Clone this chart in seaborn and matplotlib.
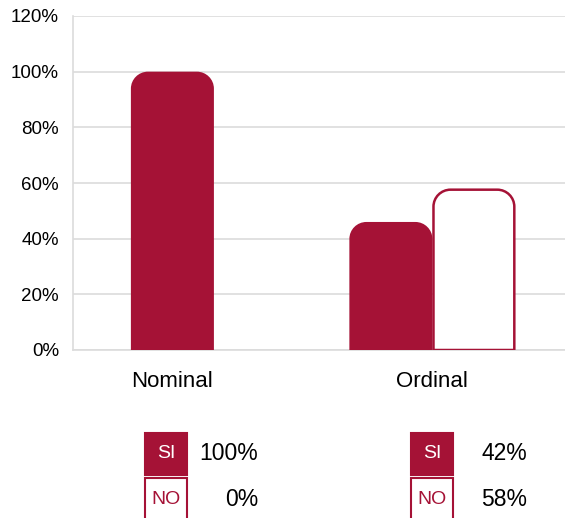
"""Rounded bar chart SI / NO with a small value table underneath"""
import numpy as np
import pandas as pd
import seaborn as sns
import matplotlib.pyplot as plt
from matplotlib.path import Path
from matplotlib.patches import PathPatch, Rectangle

categories = ['Nominal', 'Ordinal']
answers = ['SI', 'NO']
si_values = [100, 46]   # bar heights as drawn
no_values = [0, 58]
si_labels = ['100%', '42%']   # printed in the table
no_labels = ['0%', '58%']
y_ticks = [0, 20, 40, 60, 80, 100, 120]

CRIMSON = '#a51236'
GRID = '#dcdcdc'


def rounded_top(x0, w, h, rx, ry):
    """Bar path with rounded upper corners"""
    k = 0.5523
    x1 = x0 + w
    ry = min(ry, h)
    verts = [(x0, 0), (x0, h - ry),
             (x0, h - ry + k*ry), (x0 + rx - k*rx, h), (x0 + rx, h),
             (x1 - rx, h),
             (x1 - rx + k*rx, h), (x1, h - ry + k*ry), (x1, h - ry),
             (x1, 0), (x0, 0)]
    codes = [Path.MOVETO, Path.LINETO,
             Path.CURVE4, Path.CURVE4, Path.CURVE4,
             Path.LINETO,
             Path.CURVE4, Path.CURVE4, Path.CURVE4,
             Path.LINETO, Path.CLOSEPOLY]
    return Path(verts, codes)


df = pd.DataFrame({
    'categoria': categories * 2,
    'respuesta': ['SI'] * 2 + ['NO'] * 2,
    'valor': si_values + no_values,
})

sns.set_style('white')
plt.rcParams['font.family'] = ['Liberation Sans', 'DejaVu Sans']

fig = plt.figure(figsize=(5.65, 5.18), dpi=100)
ax = fig.add_axes([73/565, 168/518, 492/565, 334/518])

sns.barplot(data=df, x='categoria', y='valor', hue='respuesta',
            hue_order=answers, palette=[CRIMSON, CRIMSON], width=0.76,
            legend=False, ax=ax)

ax.set_xlim(-0.645, 1.607)
ax.set_ylim(0, 120)

# swap the square bars for rounded ones
rx, ry = 0.078, 6.1
bars = list(ax.patches)
tick_pos = {i: [] for i in range(len(categories))}
for n, bar in enumerate(bars):
    hue_idx, cat_idx = divmod(n, len(categories))
    x0, w, h = bar.get_x(), bar.get_width(), bar.get_height()
    bar.remove()
    if h <= 0:
        continue
    tick_pos[cat_idx].append(x0 + w/2)
    if answers[hue_idx] == 'SI':
        patch = PathPatch(rounded_top(x0, w, h, rx, ry), facecolor=CRIMSON,
                          edgecolor='none', zorder=3)
    else:
        patch = PathPatch(rounded_top(x0 + 0.005, w - 0.01, h - 0.4, rx, ry),
                          facecolor='white', edgecolor=CRIMSON, lw=1.8, zorder=3)
    ax.add_patch(patch)

ax.set_xticks([np.mean(tick_pos[i]) for i in range(len(categories))])
ax.set_xticklabels(categories, fontsize=16, color='black')
ax.set_yticks(y_ticks)
ax.set_yticklabels([f'{t}%' for t in y_ticks], fontsize=13.5, color='black')
ax.tick_params(axis='x', length=0, pad=15)
ax.tick_params(axis='y', length=0, pad=10)
ax.set_xlabel('')
ax.set_ylabel('')

ax.grid(axis='y', color=GRID, lw=1.2, zorder=0)
ax.set_axisbelow(True)
for side in ['top', 'right']:
    ax.spines[side].set_visible(False)
for side in ['left', 'bottom']:
    ax.spines[side].set_color(GRID)
    ax.spines[side].set_linewidth(1.2)

# little table under the chart
W, H = 565, 518
box_x = [145, 411]
text_right = [258, 527]
rows = [('SI', si_labels, 433), ('NO', no_labels, 478)]
for ci in range(len(categories)):
    for name, labels, top in rows:
        filled = name == 'SI'
        fig.add_artist(Rectangle((box_x[ci]/W, (H - top - 42)/H), 42/W, 42/H,
                                 transform=fig.transFigure,
                                 facecolor=CRIMSON if filled else 'white',
                                 edgecolor=CRIMSON, lw=1.5))
        fig.text((box_x[ci] + 21)/W, (H - top - 21)/H, name,
                 color='white' if filled else CRIMSON, fontsize=14,
                 ha='center', va='center')
        fig.text(text_right[ci]/W, (H - top - 21)/H, labels[ci],
                 color='black', fontsize=16.5, ha='right', va='center')

fig.savefig('out.png', dpi=100)
